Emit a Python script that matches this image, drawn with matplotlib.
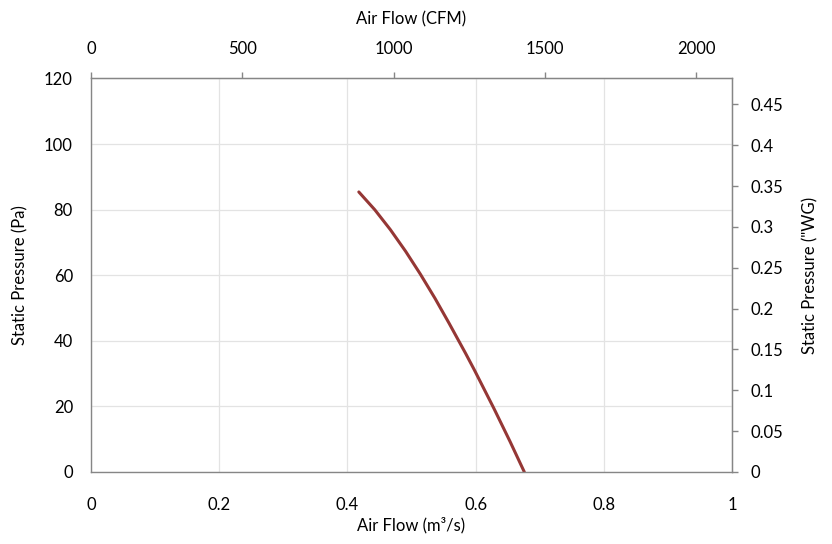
import numpy as np
import matplotlib
matplotlib.use('Agg')
import matplotlib.pyplot as plt

# fan curve
flow_m3s = [0.4178, 0.4426, 0.4670, 0.4908, 0.5136, 0.5365, 0.5585, 0.5843,
            0.5981, 0.6285, 0.6537, 0.6760]
pressure_pa = [85.4, 80.0, 73.9, 67.3, 60.4, 53.0, 45.4, 36.2,
               31.1, 19.4, 9.3, 0.0]

CFM_PER_M3S = 2118.88
PA_PER_INWG = 249.089

xticks = [0, 0.2, 0.4, 0.6, 0.8, 1]
yticks = [0, 20, 40, 60, 80, 100, 120]
cfm_ticks = [0, 500, 1000, 1500, 2000]
wg_ticks = [0, 0.05, 0.1, 0.15, 0.2, 0.25, 0.3, 0.35, 0.4, 0.45]

plt.rcParams['font.family'] = ['Lato', 'DejaVu Sans']
spine_col = '#868686'
grid_col = '#e3e3e3'
tick_fs = 12
lab_fs = 12

fig = plt.figure(figsize=(8.32, 5.44), dpi=100)
ax = fig.add_axes([0.1094, 0.1324, 0.7704, 0.7233])

ax.plot(flow_m3s, pressure_pa, color='#953735', lw=2.2,
        solid_capstyle='round', solid_joinstyle='round')

ax.set_xlim(0, 1)
ax.set_ylim(0, 120)
ax.set_xticks(xticks)
ax.set_xticklabels(['0', '0.2', '0.4', '0.6', '0.8', '1'])
ax.set_yticks(yticks)
ax.grid(True, color=grid_col, lw=0.9)
ax.set_axisbelow(True)
ax.tick_params(axis='x', length=0, pad=18, labelsize=tick_fs)
ax.tick_params(axis='y', length=0, pad=13, labelsize=tick_fs)
for s in ax.spines.values():
    s.set_color(spine_col)
    s.set_linewidth(1.0)
ax.set_xlabel('Air Flow (m³/s)', fontsize=lab_fs, labelpad=3)
ax.set_ylabel('Static Pressure (Pa)', fontsize=lab_fs, labelpad=11)

# top axis in CFM
top = ax.secondary_xaxis('top', functions=(lambda x: x * CFM_PER_M3S,
                                           lambda c: c / CFM_PER_M3S))
top.set_xticks(cfm_ticks)
top.tick_params(axis='x', length=4.5, width=1.0, color=spine_col, pad=11, labelsize=tick_fs)
top.spines['top'].set_color(spine_col)
top.set_xlabel('Air Flow (CFM)', fontsize=lab_fs, labelpad=12)

# right axis in inches of water
right = ax.secondary_yaxis('right', functions=(lambda p: p / PA_PER_INWG,
                                               lambda w: w * PA_PER_INWG))
right.set_yticks(wg_ticks)
right.set_yticklabels(['0', '0.05', '0.1', '0.15', '0.2', '0.25', '0.3',
                       '0.35', '0.4', '0.45'])
right.tick_params(axis='y', length=4, width=1.0, color=spine_col, pad=9, labelsize=tick_fs)
right.spines['right'].set_color(spine_col)
right.set_ylabel('Static Pressure ("WG)', fontsize=lab_fs, labelpad=14)

plt.savefig('out.png', dpi=100)
plt.close()
